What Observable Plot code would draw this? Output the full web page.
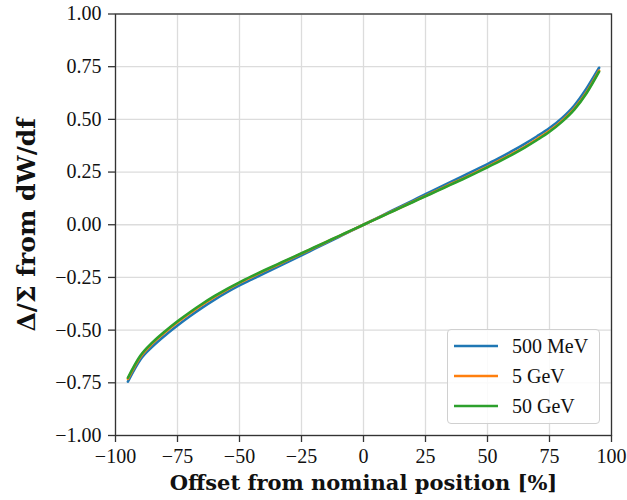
<!DOCTYPE html>
<html>
<head>
<meta charset="utf-8">
<script src="https://cdn.jsdelivr.net/npm/d3@7"></script>
<script src="https://cdn.jsdelivr.net/npm/@observablehq/plot@0.6"></script>
<style>
  html, body { margin: 0; padding: 0; background: #fff; }
  #wrap { position: relative; width: 627px; height: 500px; font-family: "Liberation Serif", serif; }
  #legend { position: absolute; left: 447px; top: 329px; width: 151px; height: 93px;
            border: 1px solid #d0d0d0; border-radius: 4px; background: rgba(255,255,255,0.85);
            box-sizing: content-box; }
  .row { position: absolute; left: 0; height: 30px; display: flex; align-items: center; }
  .row svg { margin-left: 6px; }
  .row span { margin-left: 14px; font-size: 20px; color: #111; }
</style>
</head>
<body>
<div id="wrap"></div>
<script>
const xs = [-95,-90,-85,-80,-75,-70,-65,-60,-55,-50,-45,-40,-35,-30,-25,-20,-15,-10,-5,0,5,10,15,20,25,30,35,40,45,50,55,60,65,70,75,80,85,90,95];
const mev500 = [-0.744,-0.640,-0.577,-0.525,-0.478,-0.434,-0.393,-0.355,-0.320,-0.288,-0.259,-0.230,-0.202,-0.173,-0.145,-0.116,-0.087,-0.058,-0.029,0,0.029,0.058,0.087,0.116,0.145,0.173,0.202,0.230,0.259,0.288,0.318,0.350,0.384,0.420,0.459,0.506,0.566,0.648,0.745];
const gev5 = [-0.731,-0.627,-0.562,-0.510,-0.463,-0.420,-0.379,-0.342,-0.308,-0.276,-0.247,-0.219,-0.192,-0.164,-0.137,-0.110,-0.082,-0.055,-0.028,0,0.028,0.055,0.082,0.110,0.137,0.164,0.192,0.219,0.247,0.276,0.306,0.337,0.370,0.407,0.446,0.493,0.551,0.630,0.731];
const gev50 = [-0.726,-0.622,-0.557,-0.505,-0.458,-0.415,-0.375,-0.338,-0.304,-0.273,-0.244,-0.216,-0.189,-0.162,-0.135,-0.108,-0.081,-0.054,-0.027,0,0.027,0.054,0.081,0.108,0.135,0.162,0.189,0.216,0.244,0.273,0.302,0.333,0.366,0.402,0.441,0.488,0.546,0.625,0.726];
const seriesNames = ["500 MeV", "5 GeV", "50 GeV"];
const seriesColors = ["#1f77b4", "#ff7f0e", "#2ca02c"];
const xTicks = [-100,-75,-50,-25,0,25,50,75,100];
const yTicks = [-1,-0.75,-0.5,-0.25,0,0.25,0.5,0.75,1];
const xLabel = "Offset from nominal position [%]";
const yLabel = "Δ/Σ from dW/df";

const seriesValues = [mev500, gev5, gev50];
const rows = [];
seriesNames.forEach((name, i) => {
  xs.forEach((x, j) => rows.push({series: name, x, y: seriesValues[i][j]}));
});

const chart = Plot.plot({
  width: 627,
  height: 500,
  marginLeft: 115,
  marginRight: 16,
  marginTop: 13.5,
  marginBottom: 65,
  style: {fontFamily: "Liberation Serif, serif", fontSize: "20px", color: "#111", background: "#fff"},
  x: {domain: [-100, 100]},
  y: {domain: [-1, 1]},
  color: {domain: seriesNames, range: seriesColors},
  marks: [
    Plot.gridX(xTicks, {stroke: "#dcdcdc", strokeOpacity: 1, strokeWidth: 1.3}),
    Plot.gridY(yTicks, {stroke: "#dcdcdc", strokeOpacity: 1, strokeWidth: 1.3}),
    Plot.line(rows, {x: "x", y: "y", z: "series", stroke: "series", strokeWidth: 2.6, curve: "monotone-x"}),
    Plot.frame({stroke: "#333", strokeWidth: 1.3}),
    Plot.axisX(xTicks, {tickSize: 7, tickPadding: 6, tickFormat: d3.format("d"), stroke: "#333", strokeWidth: 1.3, label: null, fontSize: 20}),
    Plot.axisY(yTicks, {tickSize: 7, tickPadding: 7, tickFormat: d3.format(".2f"), stroke: "#333", strokeWidth: 1.3, label: null, fontSize: 20}),
    Plot.text([xLabel], {frameAnchor: "bottom", dy: 48, lineAnchor: "middle", text: d => d, fontFamily: "DejaVu Serif, serif", fontSize: 21, fontWeight: "bold", fill: "#111"}),
    Plot.text([yLabel], {frameAnchor: "left", dx: -89, rotate: -90, textAnchor: "middle", lineAnchor: "middle", text: d => d, fontFamily: "DejaVu Serif, serif", fontSize: 25, fontWeight: "bold", fill: "#111"})
  ]
});

const wrap = document.getElementById("wrap");
wrap.appendChild(chart);

const legend = document.createElement("div");
legend.id = "legend";
seriesNames.forEach((name, i) => {
  const row = document.createElement("div");
  row.className = "row";
  row.style.top = (1 + i * 30) + "px";
  row.innerHTML = `<svg width="44" height="6"><line x1="0" y1="3" x2="44" y2="3" stroke="${seriesColors[i]}" stroke-width="2.6"/></svg><span>${name}</span>`;
  legend.appendChild(row);
});
wrap.appendChild(legend);
</script>
</body>
</html>
